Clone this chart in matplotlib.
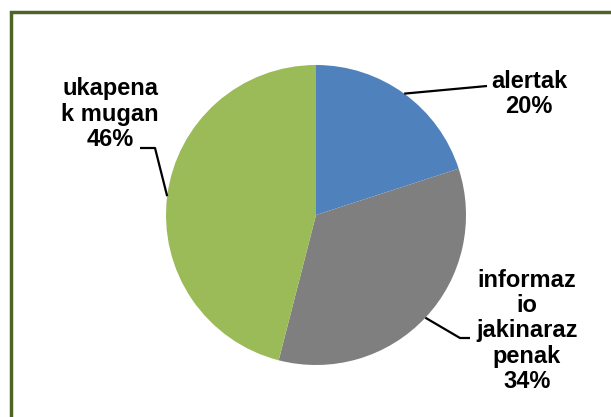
import numpy as np
import matplotlib.pyplot as plt

plt.rcParams.update({"font.family": ["Liberation Sans", "DejaVu Sans"]})

# data
labels = ["alertak", "informaz\nio\njakinaraz\npenak", "ukapena\nk mugan"]
values = [20, 34, 46]
colors = ["#4F81BD", "#7F7F7F", "#9BBB59"]

# layout (pixel space, y measured from the top)
W, H = 611, 417
cx, cy, r = 316, 215, 150
label_xy = [(529, 94), (527, 331), (110, 114)]
elbow = [(487, 86), (460, 338), (155, 148)]
line_end = [(487, 86), (470, 338), (140, 148)]

fig = plt.figure(figsize=(W / 100, H / 100), dpi=100)
ax = fig.add_axes([0, 0, 1, 1])

ax.pie(values, colors=colors, startangle=90, counterclock=False,
       center=(cx, H - cy), radius=r, frame=True,
       wedgeprops=dict(linewidth=0))
ax.set_xlim(0, W)
ax.set_ylim(0, H)
ax.set_aspect("equal")
ax.axis("off")

total = sum(values)
start = 90.0
for i, v in enumerate(values):
    mid = np.deg2rad(start - 360.0 * v / total / 2)
    start -= 360.0 * v / total
    px = cx + r * np.cos(mid)
    py = cy - r * np.sin(mid)
    xs = [px, elbow[i][0], line_end[i][0]]
    ys = [H - py, H - elbow[i][1], H - line_end[i][1]]
    ax.plot(xs, ys, color="black", lw=1.6, solid_capstyle="butt")
    ax.text(label_xy[i][0], H - label_xy[i][1], f"{labels[i]}\n{v}%",
            ha="center", va="center", fontsize=17, fontweight="bold",
            linespacing=1.12)

# frame (top and left edges only visible)
ax.plot([11, 11, W], [0, H - 12, H - 12], color="#4F6228", lw=2.5,
        solid_joinstyle="miter")

fig.savefig("out.png", dpi=100)
